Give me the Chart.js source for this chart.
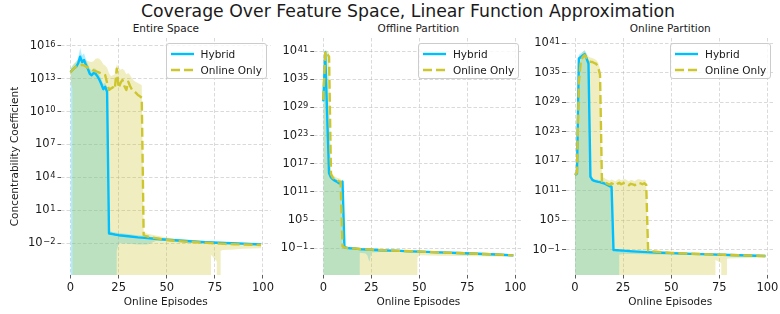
<!DOCTYPE html>
<html><head><meta charset="utf-8">
<script src="https://cdn.jsdelivr.net/npm/chart.js@4/dist/chart.umd.min.js"></script>
<style>
html,body{margin:0;padding:0;background:#fff;}
#wrap{position:relative;width:780px;height:314px;overflow:hidden;font-family:"DejaVu Sans",sans-serif;color:#1a1a1a;}
canvas{position:absolute;top:0;}
.t{position:absolute;white-space:nowrap;transform:translateX(-50%);line-height:1;}
.lg{position:absolute;box-sizing:border-box;border:1px solid #cccccc;border-radius:3px;background:rgba(255,255,255,0.8);width:101px;height:36px;font-size:10.5px;line-height:1;}
.lg svg{position:absolute;left:4px;}
.lg span{position:absolute;left:34px;white-space:nowrap;}
</style></head>
<body><div id="wrap">
<div class="t" style="left:408px;top:3.3px;font-size:17.3px;">Coverage Over Feature Space, Linear Function Approximation</div>
<div class="t" style="left:165.8px;top:22.5px;font-size:10.5px;">Entire Space</div>
<div class="t" style="left:418.4px;top:22.5px;font-size:10.5px;">Offline Partition</div>
<div class="t" style="left:670.3px;top:22.5px;font-size:10.5px;">Online Partition</div>
<canvas id="c1" width="285" height="314" style="left:0px"></canvas>
<canvas id="c2" width="265" height="314" style="left:270px"></canvas>
<canvas id="c3" width="255" height="314" style="left:525px"></canvas>
<div id="legends"></div>
</div>
<script>
// ---- data ----
const Z = 1e-300; // band lower bound <= 0 (falls below the log axis)
const SERIES_NAMES = ['Hybrid', 'Online Only'];
const PANEL_TITLES = ['Entire Space', 'Offline Partition', 'Online Partition'];
const X_TICKS = [0, 25, 50, 75, 100];
const X_TICK_LABELS = ['0', '25', '50', '75', '100'];
const Y_TICK_BASE = '10';
const P1_Y_TICKS = [1e-2, 1e1, 1e4, 1e7, 1e10, 1e13, 1e16];
const P1_Y_TICK_EXPONENTS = ['\u22122', '1', '4', '7', '10', '13', '16'];
const P23_Y_TICKS = [1e-1, 1e5, 1e11, 1e17, 1e23, 1e29, 1e35, 1e41];
const P23_Y_TICK_EXPONENTS = ['\u22121', '5', '11', '17', '23', '29', '35', '41'];

// Panel 1: Entire Space
const P1_HYB_X = [0,1,2,3,4,5,6,7,8,9,10,11,12,13,14,15,16,17,18,19,20,21,22,23,24,25,30,35,40,45,50,60,70,80,90,99];
const P1_HYB_MEAN = [4e13,6.3e13,8.9e13,1.26e14,2.5e14,1e15,3.2e14,5e14,1.8e14,7.9e13,2.8e13,2e13,3.2e13,2.8e13,1.6e13,7.9e12,3.2e12,1.1e12,1.8e12,6.3e11,7.9e-2,7.4e-2,6.8e-2,6.3e-2,5.9e-2,5.5e-2,4.4e-2,3.5e-2,3e-2,2.5e-2,2.1e-2,1.6e-2,1.26e-2,1.07e-2,9.3e-3,7.9e-3];
const P1_HYB_HI = [7.9e13,1.4e14,2.2e14,3.2e14,7.9e14,6.3e15,1.26e15,2e15,5.6e14,2.2e14,7.9e13,5.6e13,8.9e13,7.9e13,4.5e13,2.2e13,8.9e12,3.2e12,4.5e12,1.6e12,0.126,0.117,0.107,0.1,0.093,0.087,0.069,0.054,0.044,0.034,0.028,0.02,0.015,0.0126,0.0107,0.0091];
const P1_HYB_LO = [Z,Z,Z,Z,Z,Z,Z,Z,Z,Z,Z,Z,Z,Z,Z,Z,Z,Z,Z,Z,Z,Z,Z,Z,2e-3,1e-2,8.9e-3,7.9e-3,7.9e-3,1.8e-2,1.6e-2,1.2e-2,9.5e-3,8.1e-3,7.1e-3,6e-3];
const P1_ON_X = [0,1,2,3,4,5,6,7,8,9,10,11,12,13,14,15,16,17,18,19,20,21,22,23,24,25,26,27,28,29,30,31,32,33,34,35,36,37,38,39,40,45,50,55,60,65,70,71,72,73,74,75,76,77,78,79,80,85,90,95,99];
const P1_ON_MEAN = [3.5e13,6.3e13,8.9e13,1.26e14,1.4e14,1.6e14,1.8e14,1.6e14,1.26e14,1e14,8.9e13,7.1e13,5.6e13,4.8e13,4.2e13,3.5e13,3e13,2.5e13,2.1e13,4e12,9.3e11,1.26e12,1.6e12,1.1e12,7.9e13,1.4e12,4e12,7.6e12,2e12,9.3e11,5.2e12,2e12,9.3e11,7.1e11,5e11,3.2e11,2.5e11,1.8e11,5.6e-2,4.8e-2,4.2e-2,2.8e-2,2e-2,1.66e-2,1.4e-2,1.26e-2,1.12e-2,1.1e-2,1.07e-2,1.05e-2,1.02e-2,1e-2,9.8e-3,9.5e-3,9.3e-3,9.1e-3,8.9e-3,8.3e-3,7.9e-3,7.4e-3,7.1e-3];
const P1_ON_HI = [7.9e13,1.6e14,2.5e14,4e14,5e14,6.3e14,6.3e14,5.6e14,5e14,4e14,3.5e14,3.2e14,4e14,6.3e14,7.1e14,6.3e14,4e14,2e14,1.6e14,1e14,3.2e13,1.6e13,2e13,2.5e13,2e14,1e14,6.3e13,7.9e13,5.6e13,2.5e13,3.2e13,2e13,1e13,6.3e12,5e12,4e12,3.2e12,2.5e12,0.1,0.087,0.076,5e-2,3.3e-2,2.6e-2,2.2e-2,1.9e-2,1.66e-2,1.62e-2,1.6e-2,1.56e-2,1.52e-2,1.5e-2,1.47e-2,1.44e-2,1.41e-2,1.38e-2,1.35e-2,1.2e-2,1.1e-2,1e-2,9.1e-3];
const P1_ON_LO = [1e13,1e12,Z,Z,Z,Z,Z,Z,Z,Z,Z,Z,Z,Z,Z,Z,Z,Z,Z,Z,Z,Z,Z,Z,Z,Z,Z,Z,Z,Z,Z,Z,Z,Z,Z,Z,Z,Z,Z,Z,Z,Z,Z,Z,Z,Z,Z,Z,Z,8.9e-4,5.6e-4,3.5e-4,2.2e-4,Z,2e-3,2.4e-3,2.5e-3,2.8e-3,3.2e-3,3.4e-3,3.5e-3];

// Panel 2: Offline Partition
const P2_HYB_X = [0,1,2,3,4,5,6,7,8,9,10,11,12,13,14,15,16,17,18,19,20,21,22,23,24,25,30,35,40,45,50,60,70,80,90,99];
const P2_HYB_MEAN = [2e30,5e40,3.2e27,1e15,1.26e14,5e13,2.5e13,1.6e13,7.9e12,6.3e12,1.6e13,0.178,0.132,0.117,0.107,0.1,0.091,0.083,0.076,0.069,0.063,0.06,0.058,0.055,0.052,0.05,0.04,0.033,0.028,0.023,0.02,0.014,0.01,0.0071,0.005,0.0032];
const P2_HYB_HI = [6.3e30,1.6e41,1.6e28,6.3e15,4e14,1.6e14,7.9e13,5e13,2.5e13,2e13,5e13,0.28,0.21,0.186,0.17,0.158,0.145,0.132,0.12,0.11,0.1,0.095,0.091,0.087,0.083,0.079,0.063,0.052,0.045,0.037,0.032,0.022,0.016,0.011,0.0079,0.005];
const P2_HYB_LO = [Z,Z,Z,Z,Z,Z,Z,Z,Z,Z,Z,Z,Z,Z,Z,Z,Z,Z,Z,0.011,0.01,0.0089,0.0079,0.0025,1.26e-4,0.0126,0.016,0.018,0.016,0.014,0.0126,0.0089,0.0063,0.0045,0.0032,0.002];
const P2_ON_X = [0,1,2,3,4,5,6,7,8,9,10,11,12,13,14,15,16,17,18,19,20,21,22,23,24,25,30,35,40,45,46,47,48,49,50,60,70,80,90,99];
const P2_ON_MEAN = [4e30,7.9e40,2.5e40,6.3e39,6.3e14,1e14,5e13,3.2e13,2e13,1.6e13,0.25,0.158,0.126,0.112,0.105,0.1,0.093,0.087,0.079,0.072,0.066,0.063,0.06,0.058,0.055,0.052,0.042,0.035,0.029,0.024,0.0234,0.0224,0.0214,0.0209,0.02,0.0138,0.01,0.0071,0.0048,0.0032];
const P2_ON_HI = [3.2e31,2e41,1e41,4e40,4e15,4e14,2e14,1.26e14,7.9e13,6.3e13,0.4,0.25,0.21,0.19,0.178,0.17,0.158,0.148,0.138,0.126,0.117,0.112,0.107,0.102,0.098,0.093,0.074,0.062,0.051,0.043,0.042,0.04,0.039,0.038,0.035,0.0245,0.0174,0.0126,0.0085,0.0056];
const P2_ON_LO = [Z,Z,Z,Z,Z,Z,Z,Z,Z,Z,Z,Z,Z,Z,Z,Z,Z,Z,Z,Z,Z,Z,Z,Z,Z,Z,Z,Z,Z,Z,Z,Z,Z,1e-3,0.0032,0.0025,0.0022,0.002,0.0018,0.0016];

// Panel 3: Online Partition
const P3_HYB_X = [0,1,2,3,4,5,6,7,8,9,10,11,12,13,14,15,16,17,18,19,20,21,22,23,24,25,30,35,40,45,50,60,70,80,90,99];
const P3_HYB_MEAN = [1.6e14,3.2e14,7.9e37,1.6e38,3.2e38,6.3e38,7.9e37,7.9e36,7.1e13,1.6e13,1e13,7.9e12,6.3e12,5.6e12,4e12,3.2e12,2e12,1.26e12,7.9e11,6.3e11,0.087,0.081,0.076,0.071,0.066,0.063,0.045,0.035,0.028,0.023,0.02,0.014,0.0107,0.0083,0.0063,0.005];
const P3_HYB_HI = [4e14,1e15,4e38,1e39,2e39,4e39,6.3e38,4e37,2e14,4e13,2.5e13,2e13,1.6e13,1.4e13,1e13,7.9e12,5e12,3.2e12,2e12,1.6e12,0.126,0.117,0.11,0.102,0.095,0.089,0.063,0.05,0.04,0.033,0.028,0.02,0.015,0.0117,0.0089,0.0071];
const P3_HYB_LO = [6.3e13,Z,Z,Z,Z,Z,Z,Z,Z,Z,Z,Z,Z,Z,Z,Z,Z,Z,Z,Z,Z,Z,Z,0.01,0.01,0.0126,0.0126,0.0112,0.01,0.01,0.01,0.0089,0.0071,0.0056,0.0045,0.0035];
const P3_ON_X = [0,1,2,3,4,5,6,7,8,9,10,11,12,13,14,15,16,17,18,19,20,21,22,23,24,25,26,27,28,29,30,31,32,33,34,35,36,37,38,39,40,45,50,60,70,71,72,73,74,75,76,77,78,79,80,85,90,99];
const P3_ON_MEAN = [1.6e14,5e14,1e33,2e37,1.6e38,4e38,1e38,2.5e37,1.8e37,1.6e37,1e37,6.3e36,1.6e36,4e34,7.1e12,7.9e12,4e12,2.5e12,1.6e12,3.2e12,2e12,1.26e12,2.5e12,4e12,2e12,3.2e12,4e12,2e12,1.26e12,2.5e12,2e12,1.26e12,2.5e12,4e12,3.2e12,2e12,3.2e12,1.6e12,0.063,0.052,0.045,0.03,0.022,0.0148,0.011,0.0107,0.0105,0.0102,0.01,0.0098,0.0095,0.0093,0.0091,0.0089,0.0085,0.0074,0.0063,0.005];
const P3_ON_HI = [4e14,2e15,3.2e34,2e38,1.6e39,4e39,1e39,2e38,1.26e38,1e38,6.3e37,4e37,1.26e37,6.3e35,4e13,5e13,2.5e13,1.6e13,1e13,2e13,1.26e13,7.9e12,1.6e13,2.5e13,1.26e13,2e13,2.5e13,1.26e13,7.9e12,1.6e13,1.26e13,7.9e12,1.6e13,2.5e13,2e13,1.26e13,2e13,1e13,0.112,0.093,0.079,0.052,0.038,0.025,0.0186,0.0182,0.0178,0.0174,0.017,0.0166,0.0162,0.0158,0.0155,0.0151,0.0145,0.0126,0.0107,0.0083];
const P3_ON_LO = [6.3e13,Z,Z,Z,Z,Z,Z,Z,Z,Z,Z,Z,Z,Z,Z,Z,Z,Z,Z,Z,Z,Z,Z,Z,Z,Z,Z,Z,Z,Z,Z,Z,Z,Z,Z,Z,Z,Z,Z,Z,Z,Z,Z,Z,Z,Z,Z,7.9e-4,5e-4,3.2e-4,2e-4,Z,Z,1.4e-3,1.6e-3,1.8e-3,2e-3,2.5e-3];

// ---- styling ----
const FONT = '"DejaVu Sans", sans-serif';
const TXT = '#1a1a1a';
const BLUE = '#00bfff', BLUE_BAND = 'rgba(0,191,255,0.3)';
const OLIVE = '#cdc62f', OLIVE_BAND = 'rgba(205,198,47,0.3)';
const GRID = 'rgba(170,170,170,0.55)';
const TICK_LEN = 3.5, TICK_PAD = 2;

function pts(xs, ys) { return xs.map((x, i) => ({x: x, y: ys[i]})); }

function band(xs, ys, color, target, order) {
  return {data: pts(xs, ys), borderColor: 'transparent', borderWidth: 0, backgroundColor: color,
          pointRadius: 0, pointHoverRadius: 0, fill: target, order: order, tension: 0};
}

// y tick labels written as 10 with a raised exponent (matplotlib mathtext look)
const mathTicks = {
  id: 'mathTicks',
  afterDraw(chart, args, opts) {
    const s = chart.scales.y, ctx = chart.ctx;
    const xr = s.right - TICK_LEN - TICK_PAD;
    ctx.save();
    ctx.fillStyle = TXT;
    ctx.textAlign = 'right';
    s.ticks.forEach((t, i) => {
      const y = s.getPixelForValue(t.value);
      const e = opts.exps[i];
      ctx.font = '8.3px ' + FONT;
      ctx.textBaseline = 'alphabetic';
      const ew = ctx.measureText(e).width;
      ctx.fillText(e, xr, y + 0.9);
      ctx.font = '11.5px ' + FONT;
      ctx.textBaseline = 'middle';
      ctx.fillText(Y_TICK_BASE, xr - ew - 0.6, y);
    });
    ctx.restore();
  }
};

function panel(id, cfg) {
  const canvasLeft = cfg.canvasLeft, canvasW = cfg.canvasW;
  const datasets = [
    band(cfg.hx, cfg.hhi, BLUE_BAND, '+1', 5),
    band(cfg.hx, cfg.hlo, 'transparent', false, 5),
    band(cfg.ox, cfg.ohi, OLIVE_BAND, '+1', 4),
    band(cfg.ox, cfg.olo, 'transparent', false, 4),
    {label: SERIES_NAMES[0], data: pts(cfg.hx, cfg.hmean), borderColor: BLUE, borderWidth: 2.4,
     pointRadius: 0, fill: false, order: 1, tension: 0, borderJoinStyle: 'round'},
    {label: SERIES_NAMES[1], data: pts(cfg.ox, cfg.omean), borderColor: OLIVE, borderWidth: 2.4,
     borderDash: [9, 4], pointRadius: 0, fill: false, order: 0, tension: 0, borderJoinStyle: 'round'}
  ];
  const tickFont = {family: FONT, size: 11.5};
  const gridCfg = {color: GRID, lineWidth: 0.8, drawTicks: true, tickLength: TICK_LEN, tickColor: '#333', tickWidth: 0.8};
  new Chart(document.getElementById(id), {
    type: 'line',
    data: {datasets: datasets},
    plugins: [mathTicks],
    options: {
      responsive: false, animation: false, devicePixelRatio: 1, events: [],
      layout: {padding: {top: 38, left: 0, bottom: 0, right: canvasW - (cfg.plotRight - canvasLeft)}},
      plugins: {legend: {display: false}, tooltip: {enabled: false}, title: {display: false},
                mathTicks: {exps: cfg.yexps}},
      scales: {
        x: {type: 'linear', min: -4.95, max: 103.95, bounds: 'data',
            afterBuildTicks: s => { s.ticks = X_TICKS.map(v => ({value: v})); },
            afterFit: s => { s.height = 39; s.paddingLeft = 0; s.paddingRight = 0; },
            ticks: {autoSkip: false, maxRotation: 0, minRotation: 0, padding: 3, color: TXT, font: tickFont,
                    callback: (v, i) => X_TICK_LABELS[i]},
            grid: gridCfg, border: {display: false, dash: [3.5, 2]},
            title: {display: true, text: 'Online Episodes', color: TXT, font: {family: FONT, size: 10.5},
                    padding: {top: 0, bottom: 5.5}}},
        y: {type: 'logarithmic', min: cfg.ymin, max: cfg.ymax, bounds: 'data',
            afterBuildTicks: s => { s.ticks = cfg.yticks.map(v => ({value: v})); },
            afterFit: s => { s.width = cfg.plotLeft - canvasLeft; s.paddingTop = 0; s.paddingBottom = 0; },
            ticks: {display: false, autoSkip: false},
            grid: gridCfg, border: {display: false, dash: [3.5, 2]},
            title: {display: !!cfg.ytitle, text: cfg.ytitle || '', color: TXT, font: {family: FONT, size: 10.5},
                    padding: {top: 8.5, bottom: 0}}}
      }
    }
  });
  // legend (matplotlib-style box in the upper right of the axes)
  const lg = document.createElement('div');
  lg.className = 'lg';
  lg.style.left = (cfg.plotRight - 4 - 101) + 'px';
  lg.style.top = '43px';
  lg.innerHTML =
    '<svg width="24" height="6" style="top:6.5px"><line x1="0" y1="3" x2="23" y2="3" stroke="' + BLUE + '" stroke-width="2.4"/></svg>' +
    '<span style="top:4.5px">' + SERIES_NAMES[0] + '</span>' +
    '<svg width="24" height="6" style="top:22.5px"><line x1="0" y1="3" x2="23" y2="3" stroke="' + OLIVE + '" stroke-width="2.4" stroke-dasharray="9 4"/></svg>' +
    '<span style="top:20.5px">' + SERIES_NAMES[1] + '</span>';
  document.getElementById('legends').appendChild(lg);
}

panel('c1', {canvasLeft: 0, canvasW: 285, plotLeft: 61, plotRight: 270.6,
  ymin: 1.3e-5, ymax: 5e16, yticks: P1_Y_TICKS, yexps: P1_Y_TICK_EXPONENTS, ytitle: 'Concentrability Coefficient',
  hx: P1_HYB_X, hmean: P1_HYB_MEAN, hhi: P1_HYB_HI, hlo: P1_HYB_LO,
  ox: P1_ON_X, omean: P1_ON_MEAN, ohi: P1_ON_HI, olo: P1_ON_LO});
panel('c2', {canvasLeft: 270, canvasW: 265, plotLeft: 313.8, plotRight: 522.9,
  ymin: 2.1e-7, ymax: 5.9e43, yticks: P23_Y_TICKS, yexps: P23_Y_TICK_EXPONENTS,
  hx: P2_HYB_X, hmean: P2_HYB_MEAN, hhi: P2_HYB_HI, hlo: P2_HYB_LO,
  ox: P2_ON_X, omean: P2_ON_MEAN, ohi: P2_ON_HI, olo: P2_ON_LO});
panel('c3', {canvasLeft: 525, canvasW: 255, plotLeft: 565.5, plotRight: 775,
  ymin: 6.9e-7, ymax: 1.2e42, yticks: P23_Y_TICKS, yexps: P23_Y_TICK_EXPONENTS,
  hx: P3_HYB_X, hmean: P3_HYB_MEAN, hhi: P3_HYB_HI, hlo: P3_HYB_LO,
  ox: P3_ON_X, omean: P3_ON_MEAN, ohi: P3_ON_HI, olo: P3_ON_LO});
</script>
</body></html>
